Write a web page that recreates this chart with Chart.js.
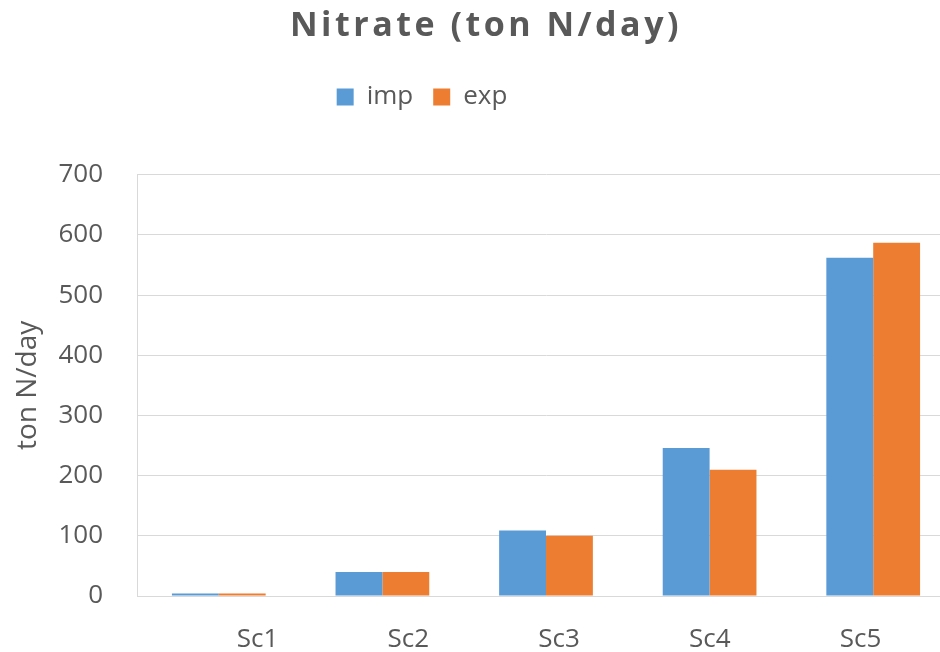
<!DOCTYPE html>
<html>
<head>
<meta charset="utf-8">
<script src="https://cdn.jsdelivr.net/npm/chart.js@4.4.1/dist/chart.umd.min.js"></script>
<style>
  html, body { margin: 0; padding: 0; background: #fff; overflow: hidden; }
  #wrap { width: 960px; height: 652px; }
</style>
</head>
<body>
<div id="wrap"><canvas id="nitrateChart" width="960" height="652"></canvas></div>
<script>
var categories = ["Sc1", "Sc2", "Sc3", "Sc4", "Sc5"];
var impValues = [4, 40, 109, 246, 562];
var expValues = [4, 40, 100, 210, 587];
var yTicks = [0, 100, 200, 300, 400, 500, 600, 700];

var grey = "#595959";
var gridGrey = "#d9d9d9";

// nudge legend/title to where the reference has them, and space out the title letters
var tweaks = {
  id: "tweaks",
  afterUpdate: function (chart) {
    var lg = chart.legend;
    if (lg) {
      var pad = lg.options.labels.padding;
      var dy = (97 - pad - 13) - lg.top;
      var dx = 422 - (lg.left + lg.right) / 2;
      lg.top += dy; lg.bottom += dy;
      lg.left += dx; lg.right += dx;
    }
    var t = chart.titleBlock;
    if (t) {
      var tx = 486 - (t.left + t.right) / 2;
      t.left += tx; t.right += tx;
      if (!t._spaced) {
        var draw = t.draw.bind(t);
        t.draw = function () {
          chart.ctx.save();
          chart.ctx.letterSpacing = "3.5px";
          draw();
          chart.ctx.restore();
        };
        t._spaced = true;
      }
    }
  }
};

new Chart(document.getElementById("nitrateChart"), {
  type: "bar",
  data: {
    labels: categories,
    datasets: [
      {
        label: "imp",
        backgroundColor: "#5b9bd5",
        data: impValues
      },
      {
        label: "exp",
        backgroundColor: "#ed7d31",
        data: expValues
      }
    ]
  },
  options: {
    responsive: false,
    animation: false,
    categoryPercentage: 0.573,
    barPercentage: 1,
    layout: { padding: { left: 0, right: 5, top: 0, bottom: 0 } },
    plugins: {
      title: {
        display: true,
        text: "Nitrate (ton N/day)",
        color: grey,
        font: { family: "Open Sans", size: 34, weight: "bold" },
        padding: { top: 6, bottom: 72 }
      },
      legend: {
        position: "top",
        labels: {
          color: grey,
          font: { family: "Open Sans", size: 26 },
          boxWidth: 17,
          boxHeight: 17,
          padding: 20
        }
      },
      tooltip: { enabled: false }
    },
    scales: {
      x: {
        type: "category",
        offset: true,
        grid: { display: false },
        border: { display: true, color: gridGrey, width: 1 },
        ticks: { display: false },
        afterFit: function (scale) { scale.height = 0; }
      },
      x2: {
        type: "linear",
        position: "bottom",
        offset: false,
        min: -0.8,
        max: 4.626,
        grid: { display: false, offset: false },
        border: { display: false },
        afterBuildTicks: function (scale) {
          scale.ticks = categories.map(function (c, i) { return { value: i }; });
        },
        afterFit: function (scale) { scale.height = 56; },
        ticks: {
          color: grey,
          font: { family: "Open Sans", size: 26 },
          padding: 20,
          maxRotation: 0,
          autoSkip: false,
          callback: function (v) { return categories[v]; }
        }
      },
      y: {
        min: 0,
        max: 700,
        afterBuildTicks: function (scale) {
          scale.ticks = yTicks.map(function (v) { return { value: v }; });
        },
        afterFit: function (scale) { scale.width = 137; },
        grid: { color: gridGrey, drawTicks: false },
        border: { display: true, color: gridGrey },
        ticks: {
          color: grey,
          font: { family: "Open Sans", size: 26 },
          padding: 34
        },
        title: {
          display: true,
          text: "ton N/day",
          color: grey,
          font: { family: "Open Sans", size: 28 },
          padding: { top: 11, bottom: 0 }
        }
      }
    }
  },
  plugins: [tweaks]
});
</script>
</body>
</html>
